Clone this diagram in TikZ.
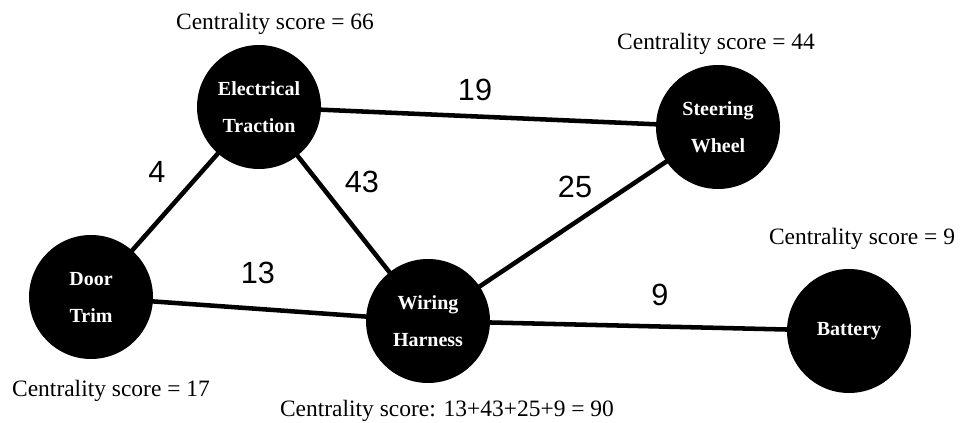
\documentclass[tikz,border=0pt]{standalone}
\usepackage{fontspec}
\setmainfont{Liberation Serif}
\newfontfamily\labelfont{Liberation Sans}
\begin{document}
\begin{tikzpicture}[x=0.75pt,y=-0.75pt,
  part/.style={circle,fill=black,minimum size=93pt,inner sep=0pt,text=white,
    align=center,font=\fontsize{15}{27.75}\selectfont\bfseries},
  link/.style={line width=3.4pt},
  weight/.style={font=\labelfont\fontsize{23}{27}\selectfont},
  score/.style={font=\fontsize{17.6}{21}\selectfont}]
\useasboundingbox (0,0) rectangle (960,423);

% connectors first, so the filled circles sit on top
\coordinate (et) at (259,107);
\coordinate (sw) at (718,127);
\coordinate (dt) at (91,297);
\coordinate (wh) at (428,321);
\coordinate (bt) at (849,331);

\draw[link] (et) -- (sw);
\draw[link] (et) -- (dt);
\draw[link] (et) -- (wh);
\draw[link] (dt) -- (wh);
\draw[link] (wh) -- (sw);
\draw[link] (wh) -- (bt);

% components
\node[part] (ET) at (et) {Electrical\\Traction};
\node[part] (SW) at (sw) {Steering\\Wheel};
\node[part] (DT) at (dt) {Door\\Trim};
\node[part] (WH) at (wh) {Wiring\\Harness};
\node[part] (BT) at (bt) {Battery};

% edge weights
\node[weight] (w19) at (475,90) {19};
\node[weight] (w4)  at (157,172) {4};
\node[weight] (w43) at (362,182) {43};
\node[weight] (w25) at (575,187) {25};
\node[weight] (w13) at (258,273) {13};
\node[weight] (w9)  at (660,295) {9};

% centrality scores
\node[score] (sET) at (275,24) {Centrality score = 66};
\node[score] (sSW) at (716,44) {Centrality score = 44};
\node[score] (sBT) at (862,239) {Centrality score = 9};
\node[score] (sDT) at (111,391) {Centrality score = 17};
\node[score] (sWH) at (447,411) {Centrality score: 13+43+25+9 = 90};
\end{tikzpicture}
\end{document}
